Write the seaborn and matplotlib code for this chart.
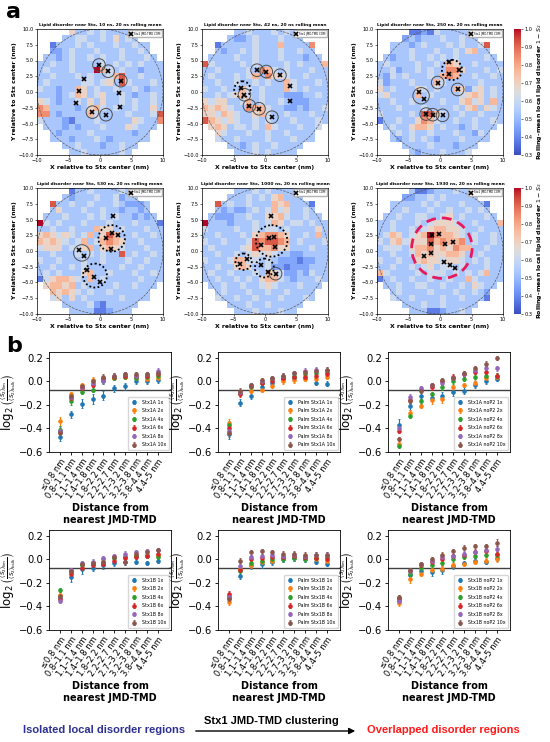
import numpy as np
import seaborn as sns
import matplotlib.pyplot as plt
from matplotlib.patches import Circle

# ---------------- panel a : local lipid disorder maps ----------------
# 1 nm cells, x and y from -10 to 10 nm, top row (y = 9..10) first.
# one digit per cell: 0 -> 0.3 ... 9 -> 1.0 ; '.' = outside the 10 nm disk
times = ["10 ns", "42 ns", "250 ns", "530 ns", "1000 ns", "1930 ns"]

grid_10 = [
    "..... 53343 43333 .....", "....3 34433 43534 3....", "..133 34343 33433 433..",
    "..223 43334 33343 343..", ".3323 43343 43343 3343.", "33433 43333 43434 34333",
    "34333 43339 64343 32333", "33433 34343 34683 34333", "34333 33443 45384 33343",
    "43323 36534 33433 43233", "33323 46534 53343 23343", "54323 34353 53343 43343",
    "76333 32356 43433 43353", "77323 33364 33334 33348", "43332 13334 33333 54337",
    ".3332 32333 43335 4333.", "..323 33343 33333 233..", "..333 23334 32333 333..",
    "....3 34333 23343 3....", "..... 33433 33343 .....",
]
grid_42 = [
    "..... 33433 34343 .....", "....3 22343 33433 3....", "..133 33343 33633 337..",
    "..323 34343 33433 433..", ".3333 43343 33433 3233.", "84333 34343 33343 43336",
    "33433 33437 64343 33433", "34333 43463 75543 34333", "33433 43343 43364 33343",
    "43343 36434 33364 34333", "33434 56434 33322 23343", "54553 34634 33432 22333",
    "65654 33766 43322 32334", "55465 43356 43343 33433", "86545 43343 43334 33343",
    ".5653 44343 64333 4334.", "..543 33433 43343 333..", "..433 43333 43334 333..",
    "....3 32343 34333 3....", "..... 33343 43333 .....",
]
grid_250 = [
    "..... 11214 33333 .....", "....2 32333 43343 3....", "..333 23433 34343 348..",
    "..333 43334 33435 633..", ".3233 43343 43433 3343.", "34333 34334 36533 43333",
    "33423 34343 37753 33434", "32434 33343 67633 43343", "42333 43336 43333 34333",
    "53433 35434 33652 45343", "45333 36343 33345 65343", "33433 43333 43356 45363",
    "33343 33433 33435 63543", "43333 43886 43343 34333", "13343 35764 33433 43343",
    ".3433 56653 43323 4333.", "..343 43343 33433 243..", "..323 43432 33343 333..",
    "....3 33343 33233 3....", "..... 32333 43334 .....",
]
grid_530 = [
    "..... 13343 33343 .....", "....3 23334 33423 3....", "..833 43343 33432 223..",
    "..353 33433 43323 323..", ".3334 33343 43433 2323.", "94343 33433 34333 43331",
    "33433 43336 55343 33433", "56545 43463 58633 43343", "65654 34634 67653 34333",
    "45553 44563 56543 33433", "33433 34343 43383 43343", "43343 33433 43334 33433",
    "33433 43433 33343 34333", "34343 33563 34333 43343", "14566 54363 43333 34333",
    ".5665 63433 33433 4333.", "..656 54343 34333 333..", "..453 53433 33343 333..",
    "....3 33342 13333 3....", "..... 33331 12333 .....",
]
grid_1000 = [
    "..... 33343 43333 .....", "....3 33434 35633 3....", "..834 33433 36563 331..",
    "..323 22343 46453 343..", ".3222 33433 55643 3433.", "93332 33343 46534 43433",
    "43333 43343 44343 33353", "33433 34356 77653 34363", "43343 33487 88763 43334",
    "34333 34586 67553 33433", "33433 43454 54332 23333", "43334 66443 43222 12233",
    "33433 56533 42212 22333", "34334 33343 65422 32433", "33433 43435 66432 33343",
    ".3343 34334 54333 4333.", "..343 33433 43343 333..", "..433 43343 33433 343..",
    "....3 33433 43333 3....", "..... 33343 33433 .....",
]
grid_1930 = [
    "..... 31123 33433 .....", "....2 23343 43333 3....", "..333 33434 33343 331..",
    "..334 33343 34334 343..", ".3343 34433 45343 3343.", "33433 34345 55433 43336",
    "33433 43456 65543 34333", "34653 45697 66543 43343", "43564 55586 76673 43343",
    "34443 56675 65766 33433", "33433 46565 56653 34333", "43343 35655 45543 43433",
    "33433 43453 44343 33433", "64333 34344 43434 34633", "13433 43343 34336 43333",
    ".3343 34433 43343 5433.", "..343 33343 33433 432..", "..433 43333 43343 331..",
    "....3 33433 43333 3....", "..... 33311 23343 .....",
]

# JMD-TMD centre-of-mass positions (nm)
jmd_10 = [(-0.16, 4.29), (1.3, 3.3), (3.3, 1.8), (-2.6, 2.0), (-3.3, 0.16),
          (-3.8, -1.8), (3.0, -0.16), (3.2, -2.4), (-1.2, -3.2), (0.95, -3.6)]
jmd_42 = [(-1.26, 3.46), (0.2, 3.25), (2.37, 2.66), (4.0, 0.96), (4.0, -1.4),
          (-3.8, 0.64), (-3.26, -0.43), (-2.47, -2.2), (-0.95, -2.66), (1.1, -4.0)]
jmd_250 = [(1.47, 4.7), (3.05, 3.5), (1.37, 2.8), (-0.37, 1.5), (2.8, 0.4),
           (-3.4, -0.05), (-2.5, -1.1), (-2.2, -3.5), (-1.16, -3.6), (0.4, -3.7)]
jmd_530 = [(2.1, 5.5), (1.96, 2.9), (2.9, 2.5), (0.9, 2.0), (1.75, 0.3),
           (-3.3, 0.16), (-2.5, -0.8), (-2.0, -3.0), (-0.9, -4.2), (0.0, -4.9)]
jmd_1000 = [(0.9, 5.6), (0.63, 2.0), (1.47, 2.26), (-0.63, 0.95), (1.58, 0.68),
            (-3.95, -2.05), (-2.9, -1.3), (-0.63, -2.2), (0.42, -3.26), (1.68, -3.6)]
jmd_1930 = [(-1.3, 2.5), (-0.13, 2.7), (-1.4, 1.05), (0.8, 1.1), (2.0, 1.4),
            (-1.4, -0.26), (-2.6, -0.74), (0.7, -1.7), (1.6, -2.2), (2.44, -2.7)]

# highlighted regions: (x, y, radius, kind)
rings_10 = [(-0.16, 4.29, 1.0, "solid"), (1.3, 3.3, 1.0, "solid"), (3.3, 1.8, 1.0, "solid"),
            (-1.2, -3.2, 1.0, "solid"), (0.95, -3.6, 1.0, "solid")]
rings_42 = [(-1.26, 3.46, 1.0, "solid"), (0.2, 3.25, 1.0, "solid"), (2.37, 2.66, 1.0, "solid"),
            (-3.6, 0.4, 1.3, "dotted"), (-3.26, -0.43, 1.0, "solid"), (-2.47, -2.2, 1.0, "solid"),
            (-0.95, -2.66, 1.0, "solid"), (1.1, -4.0, 1.0, "solid")]
rings_250 = [(1.9, 3.5, 1.6, "dotted"), (-0.37, 1.5, 1.0, "solid"), (2.8, 0.4, 1.0, "solid"),
             (-3.0, -0.6, 1.3, "solid"), (-2.2, -3.5, 1.0, "solid"), (-1.16, -3.6, 1.0, "solid"),
             (0.4, -3.7, 1.0, "solid")]
rings_530 = [(1.85, 2.0, 2.1, "dotted"), (-2.9, -0.3, 1.3, "solid"), (-0.8, -3.9, 1.9, "dotted")]
rings_1000 = [(1.05, 1.6, 2.5, "dotted"), (-3.4, -1.7, 1.3, "dotted"),
              (-0.1, -2.7, 1.5, "dotted"), (1.68, -3.6, 1.0, "solid")]
rings_1930 = [(0.3, 0.45, 4.8, "red")]

grids = [grid_10, grid_42, grid_250, grid_530, grid_1000, grid_1930]
jmds = [jmd_10, jmd_42, jmd_250, jmd_530, jmd_1000, jmd_1930]
rings = [rings_10, rings_42, rings_250, rings_530, rings_1000, rings_1930]

# ---------------- panel b : order parameter vs distance ----------------
bins = ["≤0.8 nm", "0.8–1.1 nm", "1.1–1.4 nm", "1.4–1.8 nm", "1.8–2.2 nm",
        "2.2–2.7 nm", "2.7–3.2 nm", "3.2–3.8 nm", "3.8–4.4 nm", "4.4–5 nm"]
copies = ["1x", "2x", "4x", "6x", "8x", "10x"]
systems = ["Stx1A", "Palm Stx1A", "Stx1A noP2", "Stx1B", "Palm Stx1B", "Stx1B noP2"]

mean_stx1a = [
    [-0.47, -0.28, -0.19, -0.15, -0.12, -0.06, -0.04, 0.00, 0.00, 0.01],
    [-0.34, -0.11, -0.03, 0.01, 0.03, 0.03, 0.04, 0.03, 0.02, 0.03],
    [-0.41, -0.17, -0.09, -0.07, 0.00, 0.03, 0.04, 0.03, 0.04, 0.05],
    [-0.43, -0.14, -0.06, -0.03, 0.02, 0.04, 0.05, 0.05, 0.05, 0.06],
    [-0.42, -0.13, -0.05, -0.01, 0.00, 0.05, 0.06, 0.05, 0.06, 0.09],
    [-0.44, -0.12, -0.04, 0.00, 0.04, 0.05, 0.06, 0.06, 0.06, 0.07]]
mean_palm_stx1a = [
    [-0.45, -0.18, -0.12, -0.05, -0.01, 0.02, 0.03, 0.03, -0.01, -0.02],
    [-0.35, -0.09, -0.08, -0.07, -0.04, 0.00, 0.01, 0.02, 0.02, 0.04],
    [-0.37, -0.10, -0.05, -0.01, 0.02, 0.04, 0.05, 0.06, 0.07, 0.08],
    [-0.40, -0.11, -0.04, -0.01, 0.00, 0.03, 0.04, 0.04, 0.05, 0.06],
    [-0.42, -0.09, -0.03, 0.00, 0.03, 0.05, 0.07, 0.09, 0.10, 0.10],
    [-0.44, -0.08, -0.03, 0.01, 0.03, 0.05, 0.07, 0.08, 0.09, 0.10]]
mean_stx1a_nop2 = [
    [-0.37, -0.21, -0.12, -0.14, -0.12, -0.09, -0.08, -0.03, 0.00, 0.02],
    [-0.53, -0.27, -0.21, -0.16, -0.15, -0.05, -0.03, -0.01, 0.03, 0.04],
    [-0.55, -0.29, -0.17, -0.11, -0.05, 0.00, 0.02, 0.04, 0.05, 0.05],
    [-0.42, -0.16, -0.07, -0.05, 0.00, 0.04, 0.06, 0.08, 0.08, 0.05],
    [-0.40, -0.13, -0.06, -0.03, -0.01, 0.03, 0.06, 0.10, 0.11, 0.11],
    [-0.49, -0.17, -0.08, -0.03, 0.01, 0.03, 0.07, 0.11, 0.15, 0.20]]
mean_stx1b = [
    [-0.32, -0.15, -0.08, -0.07, -0.05, -0.03, -0.02, -0.02, -0.03, -0.01],
    [-0.30, -0.10, -0.04, -0.03, 0.00, 0.02, 0.03, 0.04, 0.04, 0.04],
    [-0.26, -0.11, -0.05, -0.04, -0.02, 0.01, 0.02, 0.03, 0.03, 0.02],
    [-0.34, -0.12, -0.07, -0.05, -0.04, -0.01, 0.01, 0.02, 0.03, 0.05],
    [-0.35, -0.09, -0.03, -0.02, 0.01, 0.03, 0.05, 0.06, 0.07, 0.08],
    [-0.31, -0.10, -0.04, -0.03, -0.02, 0.02, -0.02, 0.05, 0.06, 0.08]]
mean_palm_stx1b = [
    [-0.33, -0.14, -0.05, -0.04, -0.02, 0.00, 0.01, 0.00, -0.02, -0.04],
    [-0.36, -0.08, -0.05, -0.02, -0.01, 0.01, 0.02, 0.01, 0.00, -0.01],
    [-0.31, -0.10, -0.03, -0.01, 0.00, 0.00, 0.01, 0.00, 0.01, 0.02],
    [-0.29, -0.09, 0.00, 0.01, 0.02, 0.02, 0.03, 0.02, 0.01, 0.00],
    [-0.32, -0.06, 0.02, 0.03, 0.04, 0.03, 0.04, 0.03, 0.04, 0.04],
    [-0.34, -0.01, 0.06, 0.07, 0.06, 0.05, 0.05, 0.04, 0.04, 0.04]]
mean_stx1b_nop2 = [
    [-0.35, -0.13, -0.10, -0.11, -0.09, -0.06, -0.03, -0.01, -0.02, 0.01],
    [-0.37, -0.17, -0.12, -0.09, -0.08, -0.05, -0.04, -0.02, -0.01, 0.00],
    [-0.34, -0.12, -0.07, -0.05, -0.03, 0.00, 0.02, 0.03, 0.04, 0.04],
    [-0.33, -0.10, -0.05, -0.02, 0.00, 0.03, 0.04, 0.06, 0.07, 0.05],
    [-0.35, -0.10, -0.04, -0.01, 0.02, 0.03, 0.05, 0.06, 0.08, 0.09],
    [-0.32, -0.09, -0.04, 0.00, 0.04, 0.07, 0.10, 0.11, 0.11, 0.14]]

# standard errors (same layout)
err_stx1a = [
    [0.035, 0.03, 0.04, 0.04, 0.04, 0.03, 0.03, 0.02, 0.02, 0.02],
    [0.04, 0.02, 0.02, 0.03, 0.02, 0.02, 0.02, 0.02, 0.02, 0.02],
    [0.03, 0.03, 0.02, 0.02, 0.02, 0.02, 0.02, 0.02, 0.02, 0.02],
    [0.03, 0.02, 0.02, 0.02, 0.02, 0.02, 0.02, 0.02, 0.02, 0.02],
    [0.03, 0.02, 0.02, 0.02, 0.02, 0.02, 0.02, 0.02, 0.02, 0.02],
    [0.03, 0.02, 0.02, 0.02, 0.02, 0.02, 0.02, 0.02, 0.02, 0.02]]
err_palm_stx1a = [
    [0.04, 0.03, 0.03, 0.02, 0.02, 0.02, 0.02, 0.02, 0.02, 0.02],
    [0.03, 0.02, 0.02, 0.02, 0.02, 0.02, 0.02, 0.02, 0.02, 0.02],
    [0.03, 0.02, 0.02, 0.02, 0.02, 0.02, 0.02, 0.02, 0.02, 0.02],
    [0.03, 0.02, 0.02, 0.02, 0.02, 0.02, 0.02, 0.02, 0.02, 0.02],
    [0.03, 0.02, 0.02, 0.02, 0.02, 0.02, 0.02, 0.02, 0.02, 0.02],
    [0.03, 0.02, 0.02, 0.02, 0.02, 0.02, 0.02, 0.02, 0.02, 0.02]]
err_stx1a_nop2 = [
    [0.05, 0.03, 0.03, 0.03, 0.03, 0.03, 0.03, 0.03, 0.02, 0.02],
    [0.03, 0.03, 0.02, 0.03, 0.03, 0.02, 0.02, 0.02, 0.02, 0.02],
    [0.02, 0.02, 0.02, 0.02, 0.02, 0.02, 0.02, 0.02, 0.02, 0.02],
    [0.02, 0.02, 0.02, 0.02, 0.02, 0.02, 0.02, 0.02, 0.02, 0.02],
    [0.02, 0.02, 0.02, 0.02, 0.02, 0.02, 0.02, 0.02, 0.02, 0.02],
    [0.02, 0.02, 0.02, 0.02, 0.02, 0.02, 0.02, 0.02, 0.02, 0.02]]
err_stx1b = [
    [0.03, 0.04, 0.04, 0.03, 0.03, 0.03, 0.03, 0.02, 0.02, 0.02],
    [0.02, 0.02, 0.02, 0.02, 0.02, 0.02, 0.02, 0.02, 0.02, 0.02],
    [0.02, 0.02, 0.02, 0.02, 0.02, 0.02, 0.02, 0.02, 0.02, 0.02],
    [0.02, 0.02, 0.02, 0.02, 0.02, 0.02, 0.02, 0.02, 0.02, 0.02],
    [0.02, 0.02, 0.02, 0.02, 0.02, 0.02, 0.02, 0.02, 0.02, 0.02],
    [0.02, 0.02, 0.02, 0.02, 0.02, 0.02, 0.03, 0.02, 0.02, 0.02]]
err_palm_stx1b = [
    [0.03, 0.03, 0.03, 0.03, 0.03, 0.02, 0.02, 0.02, 0.02, 0.02],
    [0.03, 0.02, 0.02, 0.02, 0.02, 0.02, 0.02, 0.02, 0.02, 0.02],
    [0.02, 0.02, 0.02, 0.02, 0.02, 0.02, 0.02, 0.02, 0.02, 0.02],
    [0.02, 0.02, 0.02, 0.02, 0.02, 0.02, 0.02, 0.02, 0.02, 0.02],
    [0.02, 0.02, 0.02, 0.02, 0.02, 0.02, 0.02, 0.02, 0.02, 0.02],
    [0.02, 0.02, 0.02, 0.02, 0.02, 0.02, 0.02, 0.02, 0.02, 0.02]]
err_stx1b_nop2 = [
    [0.03, 0.03, 0.03, 0.03, 0.03, 0.02, 0.02, 0.02, 0.02, 0.02],
    [0.03, 0.03, 0.02, 0.02, 0.02, 0.02, 0.02, 0.02, 0.02, 0.02],
    [0.02, 0.02, 0.02, 0.02, 0.02, 0.02, 0.02, 0.02, 0.02, 0.02],
    [0.02, 0.02, 0.02, 0.02, 0.02, 0.02, 0.02, 0.02, 0.02, 0.02],
    [0.02, 0.02, 0.02, 0.02, 0.02, 0.02, 0.02, 0.02, 0.02, 0.02],
    [0.02, 0.02, 0.02, 0.02, 0.02, 0.02, 0.02, 0.02, 0.02, 0.03]]

means = [mean_stx1a, mean_palm_stx1a, mean_stx1a_nop2, mean_stx1b, mean_palm_stx1b, mean_stx1b_nop2]
errs = [err_stx1a, err_palm_stx1a, err_stx1a_nop2, err_stx1b, err_palm_stx1b, err_stx1b_nop2]
bulk_line = -0.075


def decode(rows):
    out = []
    for r in rows:
        r = r.replace(" ", "")
        out.append([np.nan if ch == "." else 0.3 + 0.7 * int(ch) / 9 for ch in r])
    return np.array(out)


W, H = 550, 742
fig = plt.figure(figsize=(5.5, 7.42), dpi=100)


def px_axes(l, t, w, h):
    return fig.add_axes([l / W, 1 - (t + h) / H, w / W, h / H])


hm_lefts = [37, 202, 377]
hm_tops = [29, 188]
for k in range(6):
    row, col = divmod(k, 3)
    ax = px_axes(hm_lefts[col], hm_tops[row], 126, 126)
    data = decode(grids[k])
    if col == 2:
        cax = px_axes(514, hm_tops[row], 7, 126)
        sns.heatmap(data, ax=ax, cmap="coolwarm", vmin=0.3, vmax=1.0, cbar=True, cbar_ax=cax,
                    cbar_kws={"ticks": [0.3, 0.4, 0.5, 0.6, 0.7, 0.8, 0.9, 1.0]},
                    xticklabels=False, yticklabels=False)
        cax.tick_params(labelsize=3.6, length=1.5, width=0.4, pad=1)
        cax.set_ylabel(r"Rolling-mean local lipid disorder $1-S_2$", fontsize=4.5,
                       fontweight="bold", labelpad=2)
    else:
        sns.heatmap(data, ax=ax, cmap="coolwarm", vmin=0.3, vmax=1.0, cbar=False,
                    xticklabels=False, yticklabels=False)
    for sp in ax.spines.values():
        sp.set_visible(True)
        sp.set_linewidth(0.5)
    ax.set_xticks([0, 5, 10, 15, 20])
    ax.set_xticklabels(["−10", "−5", "0", "5", "10"])
    ax.set_yticks([0, 2.5, 5, 7.5, 10, 12.5, 15, 17.5, 20])
    ax.set_yticklabels(["10.0", "7.5", "5.0", "2.5", "0.0", "−2.5", "−5.0", "−7.5", "−10.0"],
                       rotation=0)
    ax.tick_params(labelsize=3.6, length=1.5, width=0.4, pad=1)
    ax.set_xlabel("X relative to Stx center (nm)", fontsize=4.4, fontweight="bold", labelpad=1)
    ax.set_ylabel("Y relative to Stx center (nm)", fontsize=4.4, fontweight="bold", labelpad=1)
    ax.set_title(f"Lipid disorder near Stx, {times[k]}, 20 ns rolling mean",
                 fontsize=3.2, fontweight="bold", pad=2)

    # heatmap cells are 1 nm: column = x + 10, row = 10 - y
    ax.add_patch(Circle((10, 10), 10, fill=False, ls="--", lw=0.5, color="0.35"))
    for (cx, cy, r, kind) in rings[k]:
        if kind == "solid":
            ax.add_patch(Circle((cx + 10, 10 - cy), r, fill=False, lw=0.7, ec="0.3"))
        elif kind == "dotted":
            ax.add_patch(Circle((cx + 10, 10 - cy), r, fill=False, lw=1.3, ec="k",
                                ls=(0, (1, 1.3))))
        else:
            ax.add_patch(Circle((cx + 10, 10 - cy), r, fill=False, lw=2.0, ec="#e8195a",
                                ls=(0, (3.5, 2.2))))
    xs = np.array([p[0] for p in jmds[k]]) + 10
    ys = 10 - np.array([p[1] for p in jmds[k]])
    ax.plot(xs, ys, "x", color="k", ms=3.2, mew=1.2, ls="none", label="Stx1 JMD-TMD COM")
    ax.legend(loc="upper right", fontsize=2.0, frameon=True, framealpha=1, edgecolor="0.7",
              borderpad=0.5, handlelength=1.2, handletextpad=0.5, borderaxespad=0.4,
              fancybox=False)
    ax.set_xlim(0, 20)
    ax.set_ylim(20, 0)

pal = sns.color_palette("tab10", 6)
b_lefts = [49, 218, 388]
b_tops = [352, 530]
xpos = np.arange(len(bins))
ylab = (r"$\log_2\genfrac{(}{)}{0.5}{2}{\langle S_2\rangle_{\rm lim}}"
        r"{\langle S_2\rangle_{\rm bulk}}$")
for k in range(6):
    row, col = divmod(k, 3)
    ax = px_axes(b_lefts[col], b_tops[row], 122, 100)
    for i, c in enumerate(copies):
        ax.errorbar(xpos, means[k][i], yerr=errs[k][i], fmt="o", ms=2.3, color=pal[i],
                    elinewidth=0.8, capsize=1.0, capthick=0.6, label=f"{systems[k]} {c}")
    ax.axhline(bulk_line, color="0.25", lw=1.0, zorder=0)
    ax.set_ylim(-0.6, 0.25)
    ax.set_xlim(-1.0, 10.2)
    ax.set_yticks([-0.6, -0.4, -0.2, 0.0, 0.2])
    ax.set_yticklabels(["−0.6", "−0.4", "−0.2", "0.0", "0.2"])
    ax.set_xticks(xpos)
    ax.set_xticklabels(bins, rotation=55, ha="right", rotation_mode="anchor")
    ax.tick_params(axis="y", labelsize=7.2, length=2.5, width=0.6, pad=1.5)
    ax.tick_params(axis="x", labelsize=6, length=2.5, width=0.6, pad=1)
    for sp in ax.spines.values():
        sp.set_linewidth(0.6)
    ax.set_xlabel("Distance from\nnearest JMD-TMD", fontsize=7, fontweight="bold", labelpad=2)
    ax.set_ylabel(ylab, fontsize=8.5, labelpad=1)
    ax.legend(loc="lower right", fontsize=3.4, frameon=True, edgecolor="0.8",
              labelspacing=0.75, borderpad=0.6, handlelength=1.6, handletextpad=0.8,
              borderaxespad=0.4)

fig.text(6 / W, 1 - 18 / H, "a", fontsize=16, fontweight="bold", va="baseline")
fig.text(6 / W, 1 - 352 / H, "b", fontsize=16, fontweight="bold", va="baseline")

fig.text(104.5 / W, 1 - 730 / H, "Isolated local disorder regions", ha="center", va="center",
         fontsize=8, fontweight="bold", color="#2e3192", family="Liberation Sans")
fig.text(271 / W, 1 - 721 / H, "Stx1 JMD-TMD clustering", ha="center", va="center",
         fontsize=8, fontweight="bold", color="black", family="Liberation Sans")
fig.text(443 / W, 1 - 730 / H, "Overlapped disorder regions", ha="center", va="center",
         fontsize=8, fontweight="bold", color="#ff1a1a", family="Liberation Sans")
fig.axes[0].annotate("", xy=(358 / W, 1 - 731 / H), xytext=(193 / W, 1 - 731 / H),
                     xycoords="figure fraction", textcoords="figure fraction",
                     arrowprops=dict(arrowstyle="-|>", color="k", lw=1.0, mutation_scale=9))

fig.savefig("out.png", dpi=100)
